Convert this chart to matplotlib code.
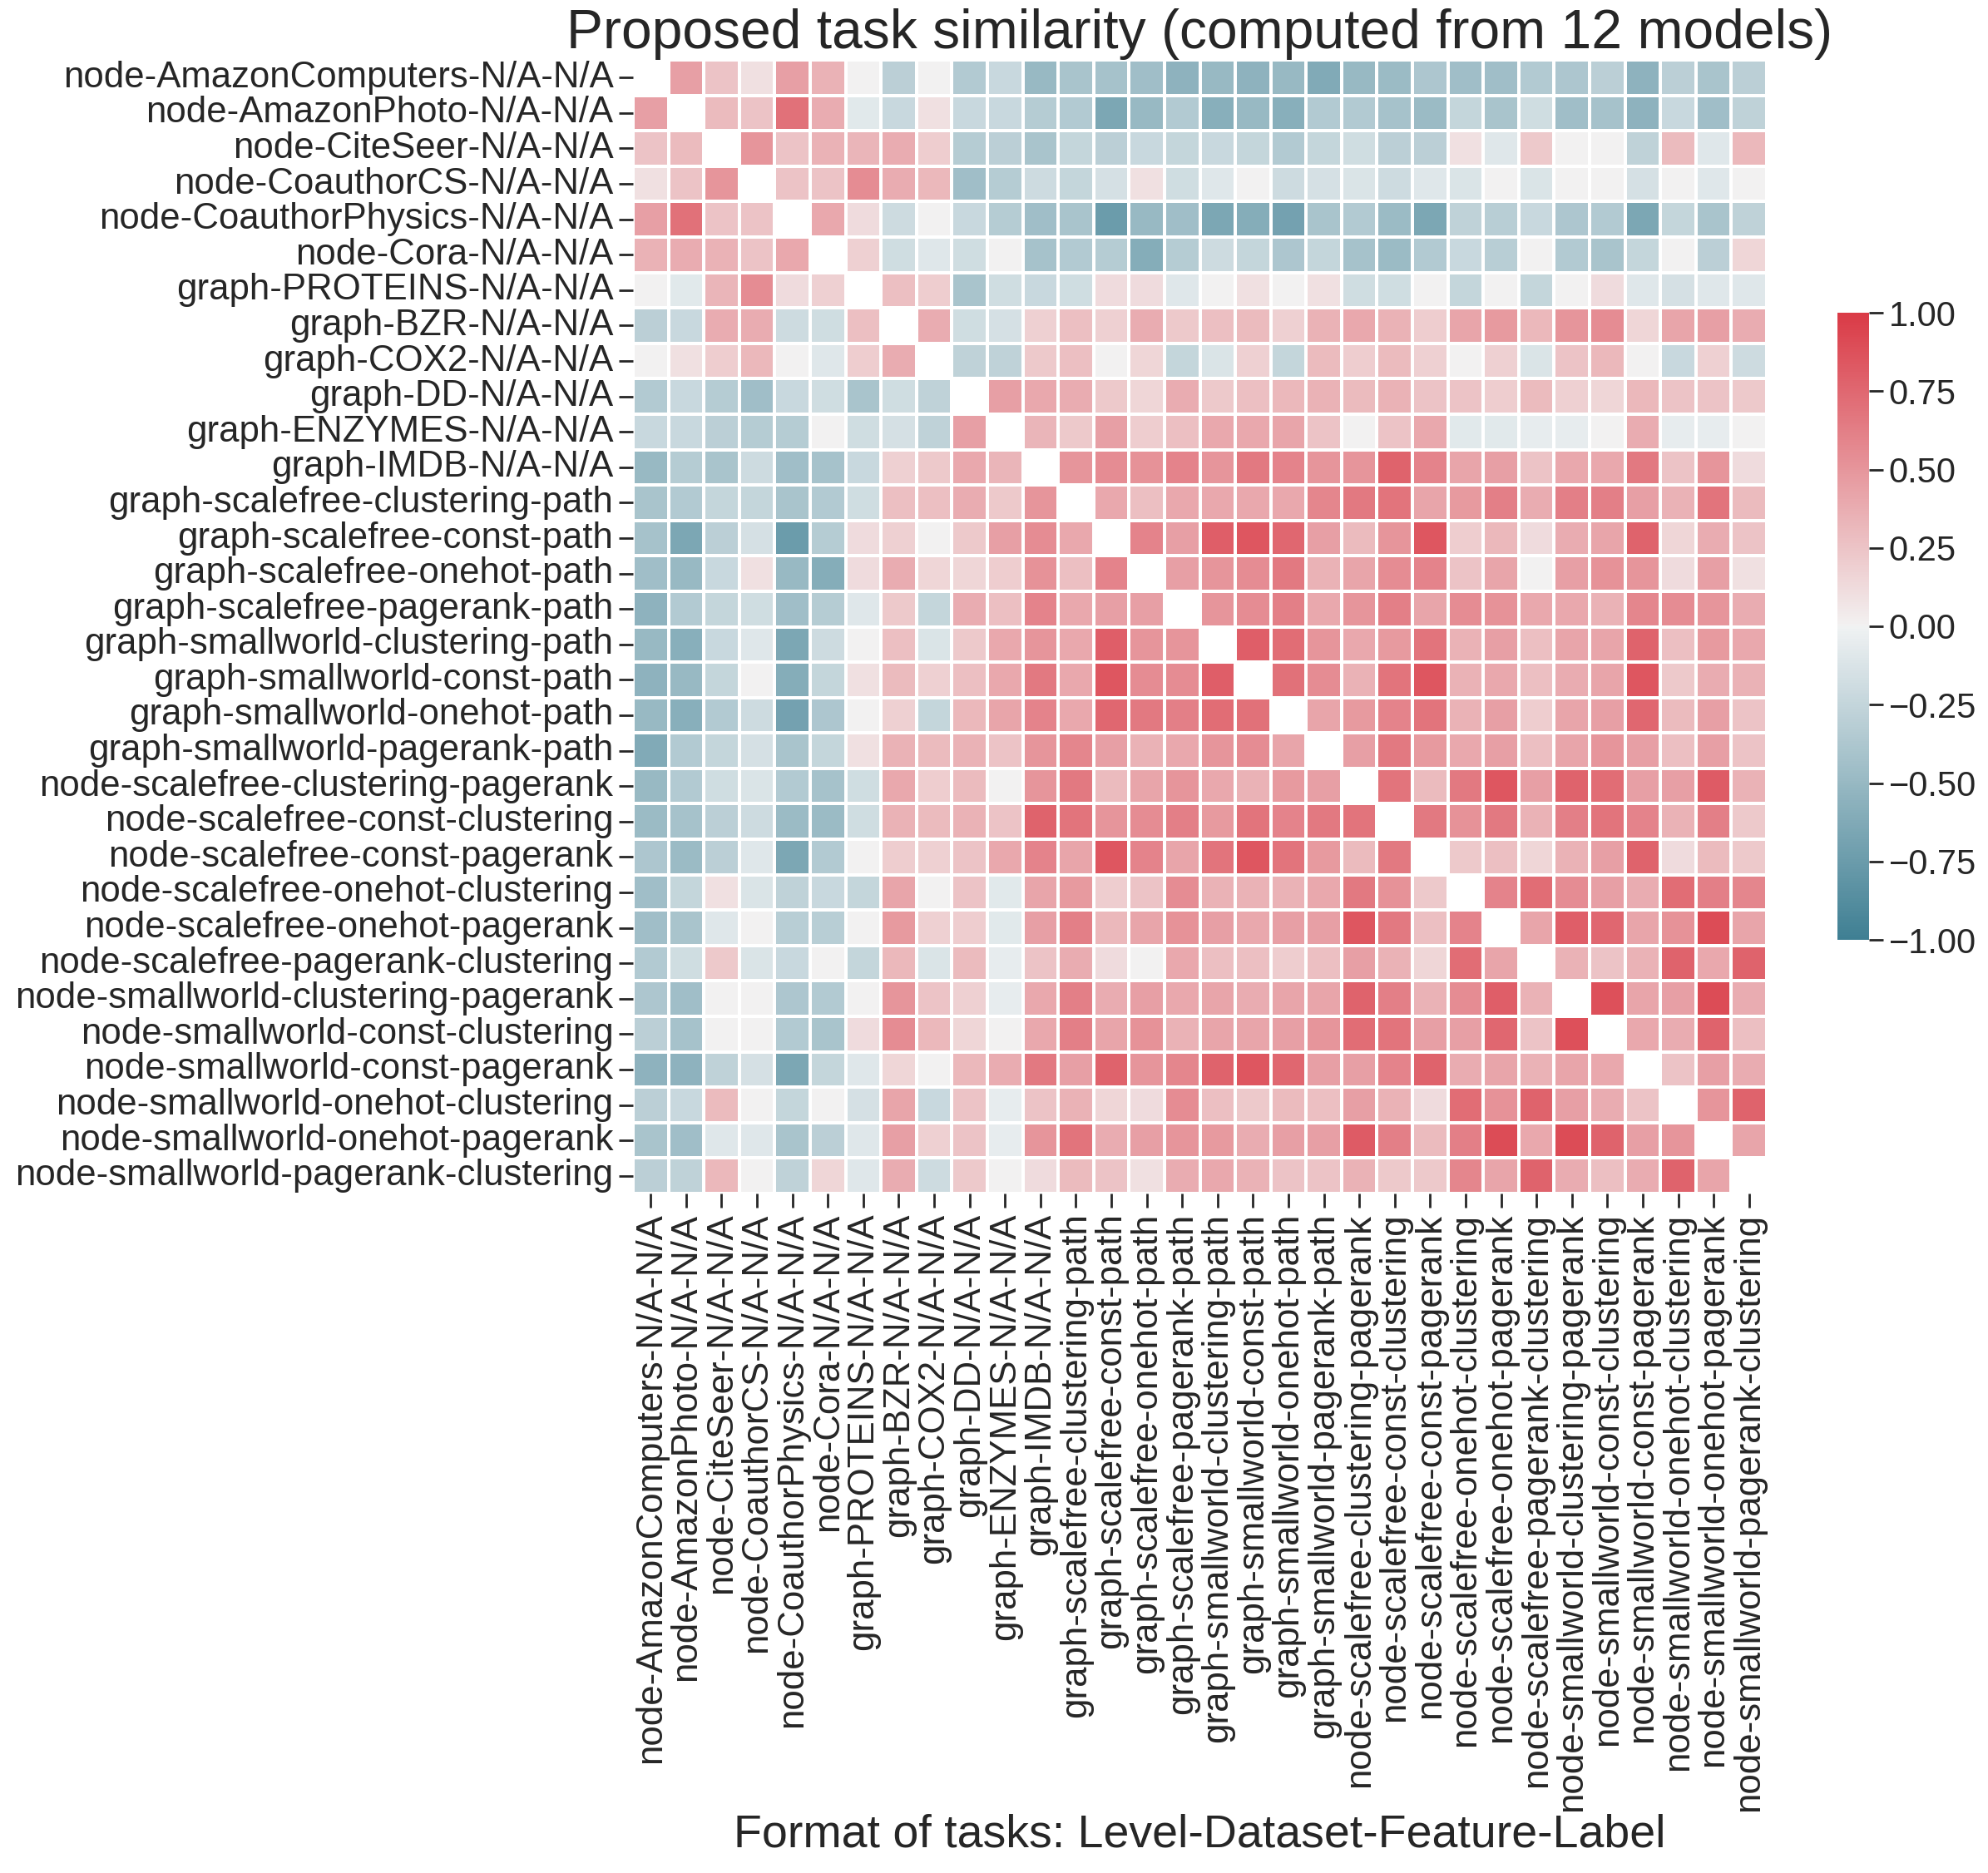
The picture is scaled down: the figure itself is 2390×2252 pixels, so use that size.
import numpy as np
import matplotlib
matplotlib.use("Agg")
import matplotlib.pyplot as plt
import seaborn as sns

tasks = [
    "node-AmazonComputers-N/A-N/A",
    "node-AmazonPhoto-N/A-N/A",
    "node-CiteSeer-N/A-N/A",
    "node-CoauthorCS-N/A-N/A",
    "node-CoauthorPhysics-N/A-N/A",
    "node-Cora-N/A-N/A",
    "graph-PROTEINS-N/A-N/A",
    "graph-BZR-N/A-N/A",
    "graph-COX2-N/A-N/A",
    "graph-DD-N/A-N/A",
    "graph-ENZYMES-N/A-N/A",
    "graph-IMDB-N/A-N/A",
    "graph-scalefree-clustering-path",
    "graph-scalefree-const-path",
    "graph-scalefree-onehot-path",
    "graph-scalefree-pagerank-path",
    "graph-smallworld-clustering-path",
    "graph-smallworld-const-path",
    "graph-smallworld-onehot-path",
    "graph-smallworld-pagerank-path",
    "node-scalefree-clustering-pagerank",
    "node-scalefree-const-clustering",
    "node-scalefree-const-pagerank",
    "node-scalefree-onehot-clustering",
    "node-scalefree-onehot-pagerank",
    "node-scalefree-pagerank-clustering",
    "node-smallworld-clustering-pagerank",
    "node-smallworld-const-clustering",
    "node-smallworld-const-pagerank",
    "node-smallworld-onehot-clustering",
    "node-smallworld-onehot-pagerank",
    "node-smallworld-pagerank-clustering",
]

# lower triangle of the similarity matrix, row i holds columns 0..i-1
lower = [
    [0.45],
    [0.25, 0.3],
    [0.1, 0.25, 0.5],
    [0.45, 0.7, 0.25, 0.25],
    [0.35, 0.38, 0.35, 0.25, 0.4],
    [0.0, -0.08, 0.33, 0.55, 0.12, 0.18],
    [-0.3, -0.22, 0.38, 0.38, -0.2, -0.18, 0.28],
    [0.0, 0.1, 0.2, 0.32, 0.0, -0.1, 0.2, 0.38],
    [-0.35, -0.22, -0.33, -0.45, -0.22, -0.18, -0.4, -0.18, -0.28],
    [-0.22, -0.22, -0.3, -0.33, -0.33, 0.0, -0.18, -0.15, -0.28, 0.45],
    [-0.5, -0.33, -0.4, -0.2, -0.45, -0.42, -0.22, 0.18, 0.22, 0.4, 0.33],
    [-0.4, -0.35, -0.25, -0.25, -0.4, -0.35, -0.18, 0.28, 0.28, 0.38, 0.22, 0.5],
    [-0.42, -0.65, -0.3, -0.15, -0.75, -0.33, 0.12, 0.18, 0.0, 0.22, 0.45, 0.55, 0.4],
    [-0.45, -0.5, -0.22, 0.1, -0.5, -0.6, 0.12, 0.38, 0.15, 0.15, 0.2, 0.52, 0.28, 0.6],
    [-0.55, -0.35, -0.25, -0.18, -0.45, -0.33, -0.1, 0.22, -0.25, 0.38, 0.28, 0.6, 0.4, 0.45, 0.45],
    [-0.5, -0.58, -0.22, -0.1, -0.65, -0.2, 0.0, 0.28, -0.12, 0.22, 0.4, 0.5, 0.4, 0.8, 0.5, 0.5],
    [-0.55, -0.5, -0.25, 0.0, -0.6, -0.25, 0.1, 0.3, 0.18, 0.28, 0.4, 0.65, 0.4, 0.85, 0.55, 0.55,
     0.8],
    [-0.5, -0.58, -0.35, -0.2, -0.7, -0.38, 0.0, 0.18, -0.25, 0.32, 0.42, 0.6, 0.4, 0.75, 0.65, 0.62,
     0.72, 0.7],
    [-0.62, -0.35, -0.25, -0.15, -0.4, -0.25, 0.1, 0.35, 0.3, 0.35, 0.25, 0.5, 0.58, 0.45, 0.35, 0.4,
     0.5, 0.55, 0.42],
    [-0.5, -0.35, -0.18, -0.12, -0.35, -0.42, -0.18, 0.4, 0.2, 0.3, 0.0, 0.5, 0.65, 0.3, 0.42, 0.5,
     0.4, 0.35, 0.48, 0.45],
    [-0.48, -0.42, -0.3, -0.2, -0.48, -0.48, -0.18, 0.35, 0.3, 0.35, 0.25, 0.78, 0.68, 0.5, 0.55, 0.62,
     0.48, 0.68, 0.6, 0.65, 0.68],
    [-0.38, -0.48, -0.3, -0.1, -0.65, -0.35, 0.0, 0.2, 0.18, 0.25, 0.4, 0.6, 0.42, 0.85, 0.6, 0.42,
     0.68, 0.85, 0.68, 0.48, 0.3, 0.65],
    [-0.45, -0.25, 0.1, -0.12, -0.28, -0.22, -0.25, 0.42, 0.0, 0.25, -0.08, 0.42, 0.48, 0.2, 0.25, 0.55,
     0.35, 0.35, 0.35, 0.4, 0.65, 0.52, 0.22],
    [-0.45, -0.4, -0.1, 0.0, -0.32, -0.32, 0.0, 0.48, 0.18, 0.2, -0.08, 0.45, 0.62, 0.32, 0.42, 0.52,
     0.45, 0.4, 0.45, 0.45, 0.85, 0.65, 0.28, 0.6],
    [-0.35, -0.18, 0.22, -0.12, -0.22, 0.0, -0.25, 0.32, -0.12, 0.3, -0.05, 0.25, 0.38, 0.12, 0.0, 0.4,
     0.28, 0.28, 0.2, 0.28, 0.45, 0.35, 0.15, 0.72, 0.42],
    [-0.38, -0.45, 0.0, 0.0, -0.38, -0.35, 0.0, 0.5, 0.25, 0.18, -0.05, 0.4, 0.62, 0.38, 0.45, 0.4,
     0.42, 0.38, 0.42, 0.42, 0.78, 0.62, 0.35, 0.55, 0.8, 0.35],
    [-0.3, -0.42, 0.0, 0.0, -0.35, -0.4, 0.12, 0.55, 0.32, 0.15, 0.0, 0.4, 0.62, 0.42, 0.52, 0.35,
     0.42, 0.42, 0.45, 0.5, 0.72, 0.68, 0.45, 0.45, 0.75, 0.25, 0.88],
    [-0.55, -0.55, -0.28, -0.15, -0.65, -0.25, -0.1, 0.15, 0.0, 0.32, 0.38, 0.65, 0.45, 0.78, 0.5, 0.58,
     0.78, 0.85, 0.75, 0.45, 0.45, 0.6, 0.78, 0.38, 0.42, 0.35, 0.42, 0.4],
    [-0.3, -0.22, 0.3, 0.0, -0.25, 0.0, -0.15, 0.42, -0.22, 0.25, -0.05, 0.25, 0.35, 0.15, 0.12, 0.55,
     0.28, 0.22, 0.3, 0.28, 0.45, 0.35, 0.12, 0.72, 0.52, 0.78, 0.45, 0.38, 0.25],
    [-0.4, -0.45, -0.1, -0.1, -0.4, -0.3, -0.1, 0.45, 0.18, 0.25, -0.05, 0.5, 0.68, 0.38, 0.45, 0.5,
     0.48, 0.38, 0.45, 0.45, 0.82, 0.62, 0.3, 0.62, 0.9, 0.4, 0.9, 0.78, 0.45, 0.5],
    [-0.3, -0.28, 0.32, 0.0, -0.28, 0.15, -0.1, 0.38, -0.2, 0.22, 0.0, 0.12, 0.3, 0.25, 0.1, 0.38,
     0.4, 0.35, 0.25, 0.25, 0.35, 0.22, 0.22, 0.58, 0.42, 0.78, 0.38, 0.28, 0.38, 0.78, 0.42],
]

cbar_ticks = [-1.0, -0.75, -0.5, -0.25, 0.0, 0.25, 0.5, 0.75, 1.0]

n = len(tasks)
sim = np.zeros((n, n))
for i, row in enumerate(lower, start=1):
    sim[i, :i] = row
    sim[:i, i] = row
mask = np.eye(n, dtype=bool)

W, H = 2390, 2252
fig = plt.figure(figsize=(W / 100, H / 100), dpi=100)
ax = fig.add_axes([761 / W, 1 - 1435 / H, 1363 / W, 1363 / H])
cax = fig.add_axes([2209 / W, 1 - 1130 / H, 38 / W, 754 / H])

cmap = sns.diverging_palette(220, 10, as_cmap=True)
sns.heatmap(sim, mask=mask, cmap=cmap, vmin=-1, vmax=1, center=0,
            linewidths=1.5, linecolor="white", ax=ax, cbar_ax=cax,
            xticklabels=tasks, yticklabels=tasks)

txt = "#262626"
font = "Liberation Sans"
ax.set_xticklabels(tasks, rotation=90, fontsize=31.5, family=font, color=txt)
ax.set_yticklabels(tasks, rotation=0, fontsize=31.5, family=font, color=txt)
ax.tick_params(length=12, width=2, color=txt, pad=5)

ax.set_title("Proposed task similarity (computed from 12 models)",
             fontsize=47.5, family=font, color=txt, pad=2)
ax.set_xlabel("Format of tasks: Level-Dataset-Feature-Label",
              fontsize=40, family=font, color=txt, labelpad=2)

cbar = ax.collections[0].colorbar
cbar.outline.set_visible(False)
cbar.set_ticks(cbar_ticks)
cbar.set_ticklabels([f"{t:.2f}".replace("-", "\u2212") for t in cbar_ticks])
cax.tick_params(length=12, width=2, color=txt, labelsize=30, labelcolor=txt, pad=5)
for lab in cax.get_yticklabels():
    lab.set_family(font)

fig.savefig("out.png", dpi=100)
